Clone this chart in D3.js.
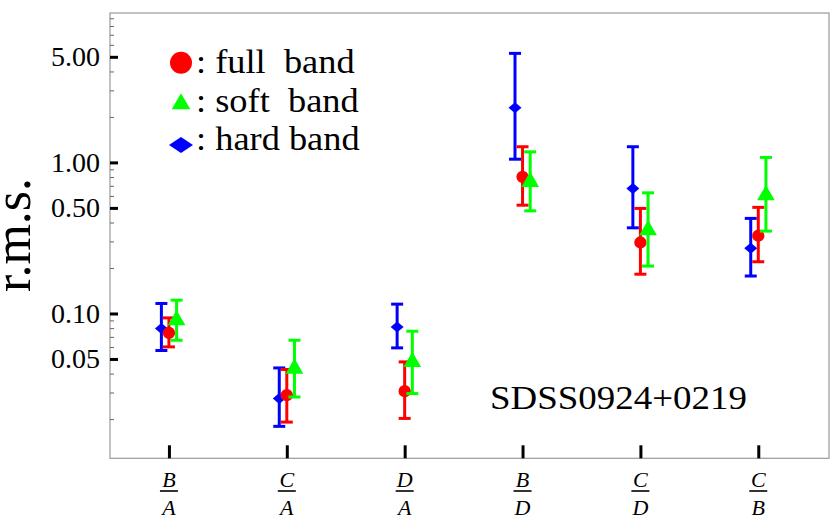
<!DOCTYPE html>
<html>
<head>
<meta charset="utf-8">
<script src="https://cdn.jsdelivr.net/npm/d3@7"></script>
<style>
  body { margin: 0; background: #fff; }
</style>
</head>
<body>
<div class="chart"></div>
<script>
//////////////
// Data
//////////////

// x categories as ratios numerator / denominator
var numerators   = ['B', 'C', 'D', 'B', 'C', 'C']
var denominators = ['A', 'A', 'A', 'D', 'D', 'B']

// full band (red circles)
var fullVal = [0.0744, 0.0288, 0.0306, 0.803, 0.295, 0.327]
var fullLo  = [0.0601, 0.0191, 0.0202, 0.521, 0.182, 0.220]
var fullHi  = [0.0935, 0.0426, 0.0478, 1.27, 0.496, 0.504]

// soft band (green triangles)
var softVal = [0.0903, 0.0432, 0.0478, 0.744, 0.356, 0.607]
var softLo  = [0.0665, 0.0280, 0.0295, 0.478, 0.206, 0.351]
var softHi  = [0.1225, 0.0665, 0.0763, 1.175, 0.629, 1.079]

// hard band (blue diamonds)
var hardVal = [0.0796, 0.0274, 0.0815, 2.30, 0.673, 0.270]
var hardLo  = [0.0569, 0.0179, 0.0592, 1.05, 0.369, 0.177]
var hardHi  = [0.1165, 0.0436, 0.1153, 5.27, 1.27, 0.426]

var majorTicks = [0.05, 0.1, 0.5, 1, 5]
var majorLabels = ['0.05', '0.10', '0.50', '1.00', '5.00']

var legendLabels = [': full  band', ': soft  band', ': hard band']
var sourceName = 'SDSS0924+0219'

///////////////
// Setup
///////////////

var w = 830, h = 519
var m = {left: 110, right: 1, top: 13, bottom: 61}
var serif = "'Liberation Serif', 'Times New Roman', Times, 'DejaVu Serif', serif"

var svg = d3.select('div.chart').append('svg')
  .attr('width', w)
  .attr('height', h)
  .attr('font-family', serif)

var x = d3.scaleLinear().domain([0.5, 6.6]).range([m.left, w - m.right])
var y = d3.scaleLog().domain([0.011, 9.75]).range([h - m.bottom + 0.3, m.top])

// marker shapes
function diamond(wd, ht) {
  return 'M0,' + (-ht / 2) + 'L' + (wd / 2) + ',0L0,' + (ht / 2) + 'L' + (-wd / 2) + ',0Z'
}
var circleSym = d3.symbol().type(d3.symbolCircle)
var triSym = d3.symbol().type(d3.symbolTriangle)

// order of drawing: blue, red, green
var series = [
  {name: 'hard', val: hardVal, lo: hardLo, hi: hardHi, color: '#0000ff', shift: -0.064,
   mark: diamond(13, 11), legendMark: diamond(24, 16), legendY: 145},
  {name: 'full', val: fullVal, lo: fullLo, hi: fullHi, color: '#ff0000', shift: 0,
   mark: circleSym.size(Math.PI * 38)(), legendMark: circleSym.size(Math.PI * 121)(), legendY: 62.7},
  {name: 'soft', val: softVal, lo: softLo, hi: softHi, color: '#00ff00', shift: 0.065,
   mark: triSym.size(135)(), legendMark: triSym.size(150)(), legendY: 104}
]

////////////////
// Frame & axes
////////////////

svg.append('rect')
  .attr('x', m.left).attr('y', m.top)
  .attr('width', w - m.right - m.left)
  .attr('height', h - m.bottom - m.top + 0.3)
  .attr('fill', 'none')
  .attr('stroke', '#9a9a9a')
  .attr('stroke-width', 1.2)

// minor y ticks
var minor = []
;[0.01, 0.1, 1].forEach(function(dec) {
  for (var k = 2; k <= 9; k++) {
    var v = +(k * dec).toPrecision(3)
    if (k != 5 && v >= 0.011 && v <= 9.75) minor.push(v)
  }
})

svg.append('g')
  .attr('transform', 'translate(' + m.left + ',0)')
  .call(d3.axisLeft(y).tickValues(minor).tickSize(-4).tickFormat(''))
  .call(g => g.select('.domain').remove())
  .call(g => g.selectAll('line').attr('stroke', '#666').attr('stroke-width', 1))

var yAxis = svg.append('g')
  .attr('transform', 'translate(' + m.left + ',0)')
  .call(d3.axisLeft(y).tickValues(majorTicks).tickSize(-8).tickPadding(10)
    .tickFormat(function(d, i) { return majorLabels[i] }))
yAxis.attr('font-family', serif).attr('font-size', 28)
yAxis.select('.domain').remove()
yAxis.selectAll('line').attr('stroke', '#000').attr('stroke-width', 3)
yAxis.selectAll('text').attr('fill', '#000')

var xAxis = svg.append('g')
  .attr('transform', 'translate(0,' + (h - m.bottom + 0.3) + ')')
  .call(d3.axisBottom(x).tickValues(d3.range(1, 7)).tickSize(-13).tickFormat(''))
xAxis.select('.domain').remove()
xAxis.selectAll('line').attr('stroke', '#000').attr('stroke-width', 3)

// fraction labels under the ticks
var frac = svg.append('g').selectAll('g')
  .data(numerators)
  .enter().append('g')
  .attr('transform', function(d, i) { return 'translate(' + x(i + 1) + ',0)' })

frac.append('text')
  .attr('y', 486.5)
  .attr('text-anchor', 'middle')
  .attr('font-size', 22).attr('font-style', 'italic')
  .text(function(d) { return d })
frac.append('line')
  .attr('x1', -9).attr('x2', 9)
  .attr('y1', 491).attr('y2', 491)
  .attr('stroke', '#000').attr('stroke-width', 1.6)
frac.append('text')
  .attr('y', 515)
  .attr('text-anchor', 'middle')
  .attr('font-size', 22).attr('font-style', 'italic')
  .text(function(d, i) { return denominators[i] })

// y label
svg.append('text')
  .attr('transform', 'translate(30,235) rotate(-90)')
  .attr('text-anchor', 'middle')
  .attr('font-size', 52)
  .text('r.m.s.')

////////////////
// Points
////////////////

series.forEach(function(s) {
  var g = svg.append('g').attr('class', s.name)
  var pts = g.selectAll('g')
    .data(s.val)
    .enter().append('g')
    .attr('transform', function(d, i) { return 'translate(' + x(i + 1 + s.shift) + ',0)' })

  pts.append('line')
    .attr('y1', function(d, i) { return y(s.lo[i]) })
    .attr('y2', function(d, i) { return y(s.hi[i]) })
    .attr('stroke', s.color).attr('stroke-width', 3)
  pts.append('line')
    .attr('x1', -6).attr('x2', 6)
    .attr('y1', function(d, i) { return y(s.lo[i]) })
    .attr('y2', function(d, i) { return y(s.lo[i]) })
    .attr('stroke', s.color).attr('stroke-width', 3)
  pts.append('line')
    .attr('x1', -6).attr('x2', 6)
    .attr('y1', function(d, i) { return y(s.hi[i]) })
    .attr('y2', function(d, i) { return y(s.hi[i]) })
    .attr('stroke', s.color).attr('stroke-width', 3)
  pts.append('path')
    .attr('transform', function(d) { return 'translate(0,' + y(d) + ')' })
    .attr('d', s.mark)
    .attr('fill', s.color)
})

////////////////
// Legend & label
////////////////

var legend = svg.append('g')
var order = [1, 2, 0]   // full, soft, hard
order.forEach(function(si, k) {
  var s = series[si]
  legend.append('path')
    .attr('transform', 'translate(181,' + s.legendY + ')')
    .attr('d', s.legendMark)
    .attr('fill', s.color)
  legend.append('text')
    .attr('transform', 'translate(196,' + (73.3 + k * 38.4) + ') scale(1.07,1)')
    .attr('font-size', 34)
    .style('white-space', 'pre')
    .text(legendLabels[k])
})

svg.append('text')
  .attr('transform', 'translate(490,409.3) scale(1.12,1)')
  .attr('font-size', 33)
  .text(sourceName)
</script>
</body>
</html>
